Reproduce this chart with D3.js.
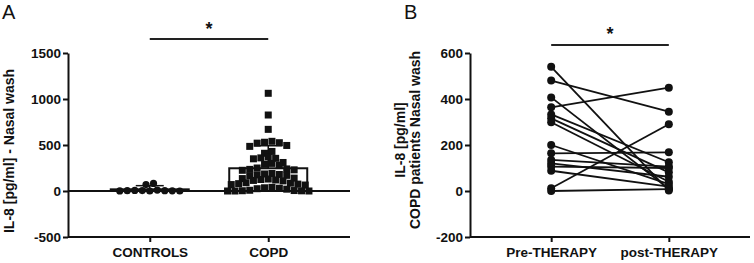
<!DOCTYPE html>
<html>
<head>
<meta charset="utf-8">
<script src="https://cdn.jsdelivr.net/npm/d3@7"></script>
<style>
  body { margin: 0; background: #fff; }
  svg text { font-family: "Liberation Sans", Arial, sans-serif; fill: #111; }
</style>
</head>
<body>
<div id="chart-area"></div>
<script>
// panel A data
var groupsA = ["CONTROLS", "COPD"];
var controls = [0, 82, 5, 70, 10, 6, 4, 3, 2, 1, 0];
var copd = [1062, 826, 670,
  540, 530, 525, 520, 495, 485, 430, 410,
  370, 360, 355, 350, 310, 300, 290, 280,
  250, 240, 235, 230, 225, 190, 185, 180, 175, 170, 165,
  140, 135, 130, 125, 120, 115, 110, 90, 85, 80, 75, 70, 65,
  40, 35, 30, 25, 20, 8, 5, 3, 2, 0, 0, 0];
var groupMean = [18, 247];
var groupSD = [40, 245];
var ticksA = [-500, 0, 500, 1000, 1500];

// panel B data (paired)
var groupsB = ["Pre-THERAPY", "post-THERAPY"];
var preTherapy = [540, 480, 407, 364, 333, 316, 299, 200, 164, 135, 120, 106, 88, 12, 0];
var postTherapy = [2, 345, 10, 449, 125, 81, 40, 30, 168, 106, 62, 100, 19, 290, 8];
var ticksB = [-200, 0, 200, 400, 600];

var width = 754, height = 263;

var svg = d3.select("#chart-area")
  .append("svg")
  .attr("width", width)
  .attr("height", height);

function plain(d) { return String(d); }

function styleAxis(g) {
  g.selectAll("path, line").attr("stroke", "#111").attr("stroke-width", 2);
  g.selectAll("text")
    .style("font-size", "13.5px")
    .style("font-weight", "bold")
    .attr("fill", "#111");
}

// ---------- panel A ----------
var xA = d3.scalePoint().domain(groupsA).range([68, 350]).padding(0.69);
var yA = d3.scaleLinear().domain([-500, 1500]).range([237, 53]);

svg.append("text").attr("x", 2).attr("y", 19)
  .style("font-size", "20px").text("A");

var yAxisA = svg.append("g")
  .attr("transform", "translate(68,0)")
  .call(d3.axisLeft(yA).tickValues(ticksA).tickFormat(plain)
    .tickSize(5).tickSizeOuter(0).tickPadding(2));
styleAxis(yAxisA);

var xAxisA = svg.append("g")
  .attr("transform", "translate(0,237)")
  .call(d3.axisBottom(xA).tickSize(5).tickSizeOuter(0).tickPadding(5));
styleAxis(xAxisA);
xAxisA.select(".domain").attr("d", "M68,0H350");

svg.append("text")
  .attr("transform", "translate(14," + 151 + ") rotate(-90)")
  .attr("text-anchor", "middle")
  .style("font-size", "14px").style("font-weight", "bold")
  .text("IL-8 [pg/ml] - Nasal wash");

// mean bars with SD (upward only)
var barW = 78;
groupsA.forEach(function(gname, i) {
  var cx = xA(gname);
  svg.append("rect")
    .attr("x", cx - barW / 2).attr("width", barW)
    .attr("y", yA(groupMean[i])).attr("height", yA(0) - yA(groupMean[i]))
    .attr("fill", "#fff").attr("stroke", "#111").attr("stroke-width", 2);
  svg.append("line")
    .attr("x1", cx).attr("x2", cx)
    .attr("y1", yA(groupMean[i])).attr("y2", yA(groupMean[i] + groupSD[i]))
    .attr("stroke", "#111").attr("stroke-width", 1.5);
  svg.append("line")
    .attr("x1", cx - 14).attr("x2", cx + 14)
    .attr("y1", yA(groupMean[i] + groupSD[i])).attr("y2", yA(groupMean[i] + groupSD[i]))
    .attr("stroke", "#111").attr("stroke-width", 1.5);
});

// zero line
svg.append("line")
  .attr("x1", 68).attr("x2", 350)
  .attr("y1", yA(0)).attr("y2", yA(0))
  .attr("stroke", "#111").attr("stroke-width", 2);

// simple beeswarm: bin values into pixel rows, spread each row around the centre
function swarm(values, cx, rowH, step) {
  var rows = d3.group(values.map(function(v, i) { return { v: v, i: i }; }),
    function(d) { return Math.round((yA(0) - yA(d.v)) / rowH); });
  var out = [];
  rows.forEach(function(list) {
    var n = list.length;
    list.forEach(function(d, k) {
      var off = (k % 2 === 0 ? 1 : -1) * Math.ceil(k / 2);
      if (n % 2 === 0) off = (k % 2 === 0 ? 1 : -1) * (Math.floor(k / 2) + 0.5);
      out.push({ v: d.v, x: cx + off * step, y: yA(d.v) });
    });
  });
  return out;
}

svg.append("g").selectAll("circle")
  .data(swarm(controls, xA("CONTROLS"), 7, 7.5))
  .enter().append("circle")
  .attr("cx", function(d) { return d.x; })
  .attr("cy", function(d) { return d.y; })
  .attr("r", 3.6)
  .attr("fill", "#111");

svg.append("g").selectAll("rect")
  .data(swarm(copd, xA("COPD"), 8, 7.4))
  .enter().append("rect")
  .attr("x", function(d) { return d.x - 3.5; })
  .attr("y", function(d) { return d.y - 3.5; })
  .attr("width", 7).attr("height", 7)
  .attr("fill", "#111");

// significance
svg.append("line").attr("x1", xA("CONTROLS")).attr("x2", xA("COPD"))
  .attr("y1", 39).attr("y2", 39).attr("stroke", "#222").attr("stroke-width", 2);
svg.append("text").attr("x", (xA("CONTROLS") + xA("COPD")) / 2).attr("y", 35)
  .attr("text-anchor", "middle").style("font-size", "18px").style("font-weight", "bold")
  .text("*");

// ---------- panel B ----------
var xB = d3.scalePoint().domain(groupsB).range([470, 750]).padding(0.69);
var yB = d3.scaleLinear().domain([-200, 600]).range([237, 53]);

svg.append("text").attr("x", 404).attr("y", 19)
  .style("font-size", "20px").text("B");

var yAxisB = svg.append("g")
  .attr("transform", "translate(470,0)")
  .call(d3.axisLeft(yB).tickValues(ticksB).tickFormat(plain)
    .tickSize(5).tickSizeOuter(0).tickPadding(2));
styleAxis(yAxisB);

var xAxisB = svg.append("g")
  .attr("transform", "translate(0,237)")
  .call(d3.axisBottom(xB).tickSize(5).tickSizeOuter(0).tickPadding(5));
styleAxis(xAxisB);
xAxisB.select(".domain").attr("d", "M470,0H750");

var titleB = svg.append("text")
  .attr("transform", "translate(405,140) rotate(-90)")
  .attr("text-anchor", "middle")
  .style("font-size", "14px").style("font-weight", "bold");
titleB.append("tspan").attr("x", 0).attr("dy", 0).text("IL-8 [pg/ml]");
titleB.append("tspan").attr("x", 0).attr("dy", 15).text("COPD patients Nasal wash");

var pairs = preTherapy.map(function(v, i) { return [v, postTherapy[i]]; });

svg.append("g").selectAll("line")
  .data(pairs)
  .enter().append("line")
  .attr("x1", xB("Pre-THERAPY")).attr("x2", xB("post-THERAPY"))
  .attr("y1", function(d) { return yB(d[0]); })
  .attr("y2", function(d) { return yB(d[1]); })
  .attr("stroke", "#111").attr("stroke-width", 1.8);

svg.append("g").selectAll("circle.pre")
  .data(preTherapy)
  .enter().append("circle")
  .attr("cx", xB("Pre-THERAPY"))
  .attr("cy", function(d) { return yB(d); })
  .attr("r", 4).attr("fill", "#111");

svg.append("g").selectAll("circle.post")
  .data(postTherapy)
  .enter().append("circle")
  .attr("cx", xB("post-THERAPY"))
  .attr("cy", function(d) { return yB(d); })
  .attr("r", 4).attr("fill", "#111");

svg.append("line").attr("x1", xB("Pre-THERAPY")).attr("x2", xB("post-THERAPY"))
  .attr("y1", 45).attr("y2", 45).attr("stroke", "#222").attr("stroke-width", 2);
svg.append("text").attr("x", (xB("Pre-THERAPY") + xB("post-THERAPY")) / 2).attr("y", 40)
  .attr("text-anchor", "middle").style("font-size", "18px").style("font-weight", "bold")
  .text("*");
</script>
</body>
</html>
